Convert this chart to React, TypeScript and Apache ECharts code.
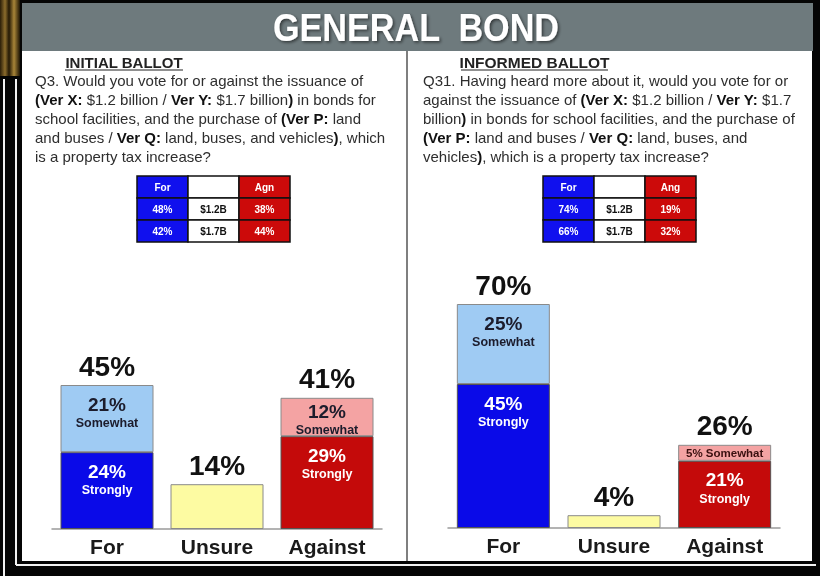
import React, { useEffect, useRef } from "react";
import * as echarts from "echarts";

// ---------- data ----------
const categories = ["For", "Unsure", "Against"];
const initialStrongly: (number | string)[] = [24, "-", 29];
const initialSomewhat: (number | string)[] = [21, "-", 12];
const initialUnsure: (number | string)[] = ["-", 14, "-"];
const informedStrongly: (number | string)[] = [45, "-", 21];
const informedSomewhat: (number | string)[] = [25, "-", 5];
const informedUnsure: (number | string)[] = ["-", 4, "-"];

const initialTableHeader = ["For", "", "Agn"];
const initialTableFor = ["48%", "42%"];
const tableAmounts = ["$1.2B", "$1.7B"];
const initialTableAgainst = ["38%", "44%"];
const informedTableHeader = ["For", "", "Ang"];
const informedTableFor = ["74%", "66%"];
const informedTableAgainst = ["19%", "32%"];

const titleText = "GENERAL  BOND";
const leftHeading = "INITIAL BALLOT";
const rightHeading = "INFORMED BALLOT";
const leftQuestion = [
  "Q3. Would you vote for or against the issuance of",
  "{b|(Ver X:} $1.2 billion / {b|Ver Y:} $1.7 billion{b|)} in bonds for",
  "school facilities, and the purchase of {b|(Ver P:} land",
  "and buses / {b|Ver Q:} land, buses, and vehicles{b|)}, which",
  "is a property tax increase?",
];
const rightQuestion = [
  "Q31. Having heard more about it, would you vote for or",
  "against the issuance of {b|(Ver X:} $1.2 billion / {b|Ver Y:} $1.7",
  "billion{b|)} in bonds for school facilities, and the purchase of",
  "{b|(Ver P:} land and buses / {b|Ver Q:} land, buses, and",
  "vehicles{b|)}, which is a property tax increase?",
];

// ---------- style ----------
const FONT = "'Liberation Sans', Arial, Helvetica, sans-serif";
const BLUE = "#0a0ae8";
const LBLUE = "#9fcbf3";
const YELLOW = "#fdfba2";
const RED = "#c40a0a";
const PINK = "#f4a3a3";
const TBLUE = "#1010ee";
const TRED = "#cc0a0a";
const strongColors = [BLUE, null, RED];
const someColors = [LBLUE, null, PINK];
const PX = 3.2; // grid height 320 / axis max 100

function segItem(v: number | string, color: string | null, word: string, light: boolean) {
  if (v === "-" || color == null) return "-";
  const n = v as number;
  const h = n * PX;
  const tc = light ? "#1c1c2c" : "#ffffff";
  let label: any;
  if (h < 24) {
    label = {
      show: true,
      position: "inside",
      formatter: `{t|${n}% ${word}}`,
      rich: { t: { fontSize: 11.5, fontWeight: "bold", color: light ? "#3a1010" : tc, fontFamily: FONT } },
    };
  } else {
    const compact = h < 45;
    label = {
      show: true,
      position: "insideTop",
      distance: compact ? 4 : 9,
      formatter: `{p|${n}%}\n{s|${word}}`,
      rich: {
        p: { fontSize: 19, fontWeight: "bold", color: tc, lineHeight: 20, fontFamily: FONT },
        s: { fontSize: 12.5, fontWeight: "bold", color: tc, lineHeight: compact ? 16 : 18, fontFamily: FONT },
      },
    };
  }
  return {
    value: n,
    itemStyle: { color, borderColor: light ? "#8a8a8a" : "#555", borderWidth: 1 },
    label,
  };
}

function panelSeries(
  idx: number,
  strong: (number | string)[],
  some: (number | string)[],
  unsure: (number | string)[]
) {
  const totals = categories.map((_, i) =>
    strong[i] !== "-" ? (strong[i] as number) + (some[i] as number) : (unsure[i] as number)
  );
  const common = {
    type: "bar",
    xAxisIndex: idx,
    yAxisIndex: idx,
    barWidth: 93,
    barGap: "-100%",
  };
  return [
    {
      ...common,
      name: "Strongly",
      stack: "s" + idx,
      data: strong.map((v, i) => segItem(v, strongColors[i], "Strongly", false)),
    },
    {
      ...common,
      name: "Somewhat",
      stack: "s" + idx,
      data: some.map((v, i) => segItem(v, someColors[i], "Somewhat", true)),
    },
    {
      ...common,
      name: "Unsure",
      stack: "s" + idx,
      itemStyle: { color: YELLOW, borderColor: "#8a8a8a", borderWidth: 1 },
      data: unsure,
    },
    {
      ...common,
      name: "Total",
      silent: true,
      z: 1,
      itemStyle: { color: "rgba(0,0,0,0)" },
      label: {
        show: true,
        position: "top",
        distance: 5,
        formatter: "{c}%",
        fontSize: 28,
        fontWeight: "bold",
        color: "#111",
        fontFamily: FONT,
      },
      data: totals,
    },
  ];
}

function tableEls(x0: number, y0: number, header: string[], forVals: string[], amounts: string[], agnVals: string[]) {
  const w = 51;
  const h = 22;
  const fills = [TBLUE, "#ffffff", TRED];
  const txt = ["#ffffff", "#111111", "#ffffff"];
  const rows = [header, [forVals[0], amounts[0], agnVals[0]], [forVals[1], amounts[1], agnVals[1]]];
  const els: any[] = [];
  rows.forEach((row, r) => {
    row.forEach((t, c) => {
      els.push({
        type: "rect",
        z: 5,
        shape: { x: x0 + c * w, y: y0 + r * h, width: w, height: h },
        style: { fill: fills[c], stroke: "#111", lineWidth: 1.5 },
      });
      if (t) {
        els.push({
          type: "text",
          z: 6,
          x: x0 + c * w + w / 2,
          y: y0 + r * h + h / 2,
          style: {
            text: t,
            align: "center",
            verticalAlign: "middle",
            fontSize: 10,
            fontWeight: "bold",
            fill: txt[c],
            fontFamily: FONT,
          },
        });
      }
    });
  });
  return els;
}

function questionEl(x: number, lines: string[]) {
  return {
    type: "text",
    z: 5,
    x,
    y: 71,
    style: {
      text: lines.join("\n"),
      fontSize: 15,
      lineHeight: 19,
      fill: "#2e2e2e",
      fontFamily: FONT,
      align: "left",
      verticalAlign: "top",
      rich: {
        b: { fontSize: 15, lineHeight: 19, fontWeight: "bold", fill: "#111", color: "#111", fontFamily: FONT },
      },
    },
  };
}

export default function App() {
  const ref = useRef<HTMLDivElement>(null);
  useEffect(() => {
    if (!ref.current) return;
    const chart = echarts.init(ref.current, null, { renderer: "svg" });

    const graphics: any[] = [
      { type: "rect", z: -20, shape: { x: 0, y: 0, width: 820, height: 576 }, style: { fill: "#050505" } },
      {
        type: "rect",
        z: -19,
        shape: { x: 0, y: 0, width: 20, height: 76 },
        style: {
          fill: new echarts.graphic.LinearGradient(0, 0, 1, 0, [
            { offset: 0, color: "#2a1d08" },
            { offset: 0.25, color: "#8c6c2c" },
            { offset: 0.45, color: "#231805" },
            { offset: 0.7, color: "#a98538" },
            { offset: 1, color: "#1d1404" },
          ]),
        },
      },
      { type: "line", z: -18, shape: { x1: 4, y1: 79, x2: 4, y2: 576 }, style: { stroke: "#f2f2f2", lineWidth: 2 } },
      { type: "line", z: -18, shape: { x1: 16, y1: 79, x2: 16, y2: 565 }, style: { stroke: "#f2f2f2", lineWidth: 2 } },
      { type: "line", z: -18, shape: { x1: 16, y1: 565, x2: 816, y2: 565 }, style: { stroke: "#f2f2f2", lineWidth: 2 } },
      { type: "rect", z: -15, shape: { x: 22, y: 3, width: 790, height: 558 }, style: { fill: "#ffffff" } },
      { type: "rect", z: -14, shape: { x: 22, y: 3, width: 791, height: 48 }, style: { fill: "#6e7a7d" } },
      { type: "line", z: -13, shape: { x1: 407, y1: 51, x2: 407, y2: 561 }, style: { stroke: "#555", lineWidth: 1.5 } },
      {
        type: "text",
        z: 5,
        x: 416,
        y: 28,
        scaleX: 0.9,
        style: {
          text: titleText,
          align: "center",
          verticalAlign: "middle",
          fontSize: 38,
          fontWeight: "bold",
          fill: "#ffffff",
          fontFamily: FONT,
          textShadowColor: "rgba(0,0,0,0.55)",
          textShadowBlur: 3,
          textShadowOffsetX: 1.5,
          textShadowOffsetY: 1.5,
        },
      },
      {
        type: "text",
        z: 5,
        x: 124,
        y: 62,
        style: { text: leftHeading, align: "center", verticalAlign: "middle", fontSize: 15, fontWeight: "bold", fill: "#222", fontFamily: FONT },
      },
      { type: "line", z: 5, shape: { x1: 65, y1: 70, x2: 183, y2: 70 }, style: { stroke: "#222", lineWidth: 1.2 } },
      {
        type: "text",
        z: 5,
        x: 534.5,
        y: 62,
        style: { text: rightHeading, align: "center", verticalAlign: "middle", fontSize: 15.5, fontWeight: "bold", fill: "#222", fontFamily: FONT },
      },
      { type: "line", z: 5, shape: { x1: 461, y1: 70, x2: 608, y2: 70 }, style: { stroke: "#222", lineWidth: 1.2 } },
      questionEl(35, leftQuestion),
      questionEl(423, rightQuestion),
      ...tableEls(137, 176, initialTableHeader, initialTableFor, tableAmounts, initialTableAgainst),
      ...tableEls(543, 176, informedTableHeader, informedTableFor, tableAmounts, informedTableAgainst),
    ];

    const xAxisBase = {
      type: "category",
      data: categories,
      axisLine: { show: true, lineStyle: { color: "#9a9a9a", width: 1.5 } },
      axisTick: { show: false },
      axisLabel: { fontSize: 21, fontWeight: "bold", color: "#1a1a1a", margin: 7, fontFamily: FONT },
      splitLine: { show: false },
    };
    const yAxisBase = { type: "value", min: 0, max: 100, show: false, splitLine: { show: false } };

    chart.setOption({
      animation: false,
      textStyle: { fontFamily: FONT },
      graphic: { elements: graphics },
      grid: [
        { left: 52, top: 209, width: 330, height: 320 },
        { left: 448, top: 208, width: 332, height: 320 },
      ],
      xAxis: [
        { ...xAxisBase, gridIndex: 0 },
        { ...xAxisBase, gridIndex: 1 },
      ],
      yAxis: [
        { ...yAxisBase, gridIndex: 0 },
        { ...yAxisBase, gridIndex: 1 },
      ],
      series: [
        ...panelSeries(0, initialStrongly, initialSomewhat, initialUnsure),
        ...panelSeries(1, informedStrongly, informedSomewhat, informedUnsure),
      ],
    });
    return () => chart.dispose();
  }, []);
  return (
    <div
      ref={ref}
      style={{ position: "fixed", left: 0, top: 0, width: 820, height: 576 }}
    />
  );
}
